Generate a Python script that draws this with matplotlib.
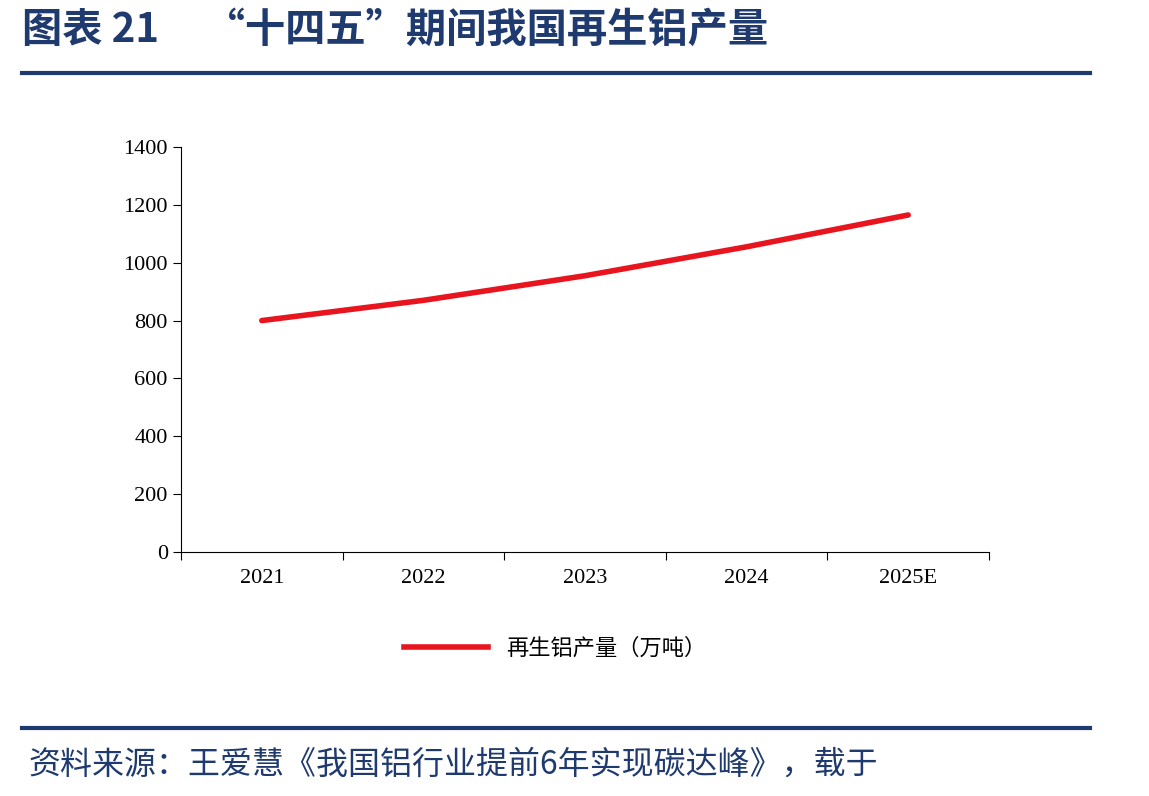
import matplotlib
matplotlib.use("Agg")
import matplotlib.pyplot as plt
from matplotlib.lines import Line2D

years = ["2021", "2022", "2023", "2024", "2025E"]
output = [800, 870, 955, 1055, 1165]
yticks = [0, 200, 400, 600, 800, 1000, 1200, 1400]

navy = "#1F3A6E"
cjk = ["Noto Sans CJK SC", "DejaVu Sans"]
serif = ["Liberation Serif", "Noto Sans CJK SC"]

fig = plt.figure(figsize=(11.49, 7.96), dpi=100)
W, H = 1149, 796
ax = fig.add_axes([181 / W, 1 - 552 / H, (989 - 181) / W, (552 - 147) / H])

x = range(len(years))
ax.plot(x, output, color="#E8141E", linewidth=4, solid_capstyle="round")
ax.set_xlim(-0.5, len(years) - 0.5)
ax.set_ylim(0, 1400)
ax.set_yticks(yticks)
ax.set_xticks([i - 0.5 for i in range(len(years) + 1)], minor=False)
ax.set_xticklabels([])
ax.set_xticks(list(x), minor=True)
ax.set_xticklabels(years, minor=True, fontsize=16, family=serif)
ax.tick_params(axis="x", which="minor", length=0, pad=12)
ax.tick_params(axis="x", which="major", length=6, direction="out")
ax.tick_params(axis="y", length=6, direction="out", labelsize=16)
for lab in ax.get_yticklabels():
    lab.set_family(serif)
ax.spines["top"].set_visible(False)
ax.spines["right"].set_visible(False)

handle = Line2D([], [], color="#E8141E", linewidth=4)
fig.legend([handle], ["再生铝产量（万吨）"], loc="center", bbox_to_anchor=(555 / W, 1 - 648 / H),
           frameon=False, prop={"family": cjk, "size": 16}, handlelength=3.8)

fig.text(22 / W, 1 - 30 / H, "图表 21     \u201c十四五\u201d期间我国再生铝产量", fontsize=29,
         fontweight="bold", color=navy, family=cjk, va="center")
fig.add_artist(Line2D([22 / W, 1090 / W], [1 - 73 / H] * 2, color=navy, linewidth=3))
fig.add_artist(Line2D([22 / W, 1090 / W], [1 - 728 / H] * 2, color=navy, linewidth=3))
fig.text(28 / W, 1 - 765 / H, "资料来源：王爱慧《我国铝行业提前6年实现碳达峰》，载于", fontsize=23,
         color=navy, family=cjk, va="center", style="italic")

fig.savefig("out.png", dpi=100)
